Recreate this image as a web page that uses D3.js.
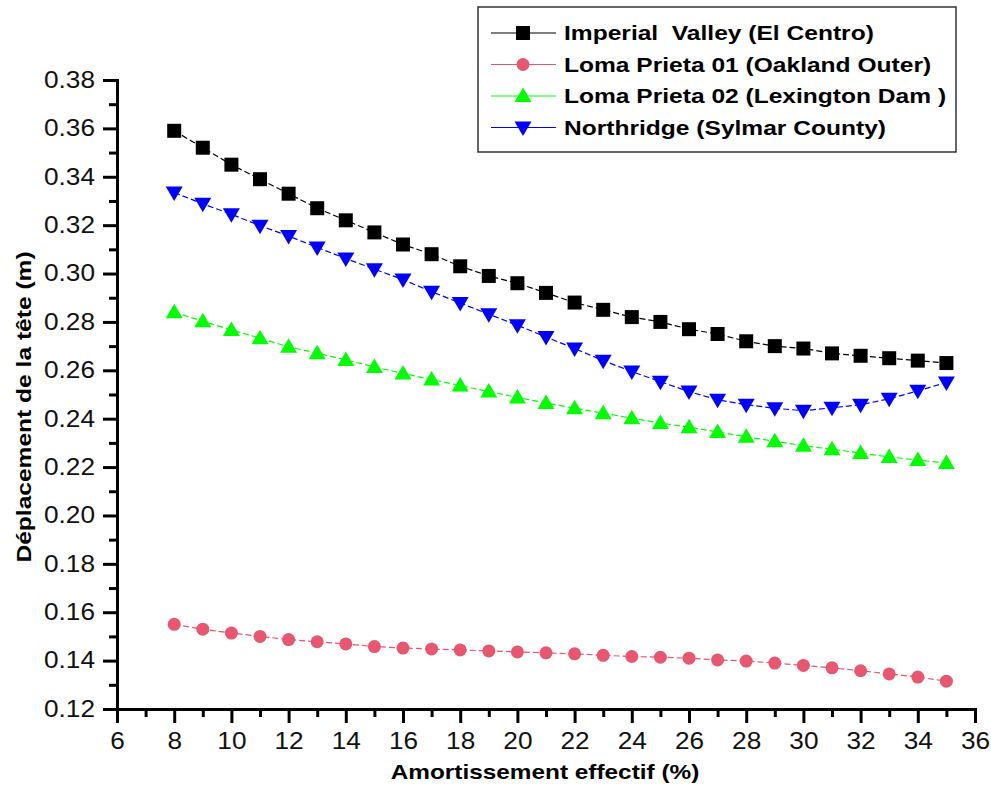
<!DOCTYPE html>
<html>
<head>
<meta charset="utf-8">
<script src="https://cdn.jsdelivr.net/npm/d3@7"></script>
<style>
  body { margin: 0; background: #fff; }
  svg { display: block; font-family: "Liberation Sans", Arial, sans-serif; }
</style>
</head>
<body>
<svg id="chart" width="991" height="789"></svg>
<script>
// amortissement effectif (%)
let damping = d3.range(8, 36);

let imperial = [0.359, 0.352, 0.345, 0.339, 0.333, 0.327, 0.322, 0.317, 0.312, 0.308,
                0.303, 0.299, 0.296, 0.292, 0.288, 0.285, 0.282, 0.280, 0.277, 0.275,
                0.272, 0.270, 0.269, 0.267, 0.266, 0.265, 0.264, 0.263];
let lomaOakland = [0.155, 0.153, 0.1514, 0.150, 0.1487, 0.1478, 0.1469, 0.1458, 0.1452, 0.1448,
                   0.1444, 0.1440, 0.1436, 0.1432, 0.1428, 0.1422, 0.1417, 0.1414, 0.1410, 0.1403,
                   0.1398, 0.1390, 0.1380, 0.1370, 0.1358, 0.1345, 0.1332, 0.1315];
let lomaLexington = [0.284, 0.2803, 0.2767, 0.2733, 0.2697, 0.2671, 0.2643, 0.2614, 0.2587, 0.2562,
                     0.2537, 0.2512, 0.2488, 0.2465, 0.2443, 0.2423, 0.2402, 0.2382, 0.2365, 0.2345,
                     0.2325, 0.2307, 0.2288, 0.2274, 0.2258, 0.2242, 0.2229, 0.2217];
let northridge = [0.3335, 0.3288, 0.3245, 0.3198, 0.3155, 0.3108, 0.3062, 0.3018, 0.2975, 0.2925,
                  0.2878, 0.2832, 0.2786, 0.2738, 0.2690, 0.2640, 0.2595, 0.2553, 0.2512, 0.2478,
                  0.2458, 0.2443, 0.2433, 0.2445, 0.2458, 0.2482, 0.2515, 0.2550];

let seriesNames = ["Imperial  Valley (El Centro)", "Loma Prieta 01 (Oakland Outer)",
                   "Loma Prieta 02 (Lexington Dam )", "Northridge (Sylmar County)"];
let seriesColors = ["#000000", "#e8566f", "#00ff00", "#0000ff"];
let seriesSymbols = ["square", "circle", "up", "down"];

let xTicks = d3.range(6, 37, 2);
let yTicks = d3.range(0.12, 0.381, 0.02);

let series = [imperial, lomaOakland, lomaLexington, northridge].map((vals, i) => ({
  name: seriesNames[i],
  color: seriesColors[i],
  symbol: seriesSymbols[i],
  points: vals.map((v, j) => ({x: damping[j], y: v}))
}));

let minx = 117, maxx = 975;
let miny = 80, maxy = 709;
let sx = 1.14; // text in the original is a bit stretched horizontally

let xScale = d3.scaleLinear().domain([6, 36]).range([minx, maxx]);
let yScale = d3.scaleLinear().domain([0.12, 0.38]).range([maxy, miny]);

let svg = d3.select("#chart");

function symbolPath(type) {
  if (type == "square") return "M-7,-7H7V7H-7Z";
  if (type == "circle") return d3.symbol().type(d3.symbolCircle).size(Math.PI * 6.5 * 6.5)();
  if (type == "up") return "M0,-8.5L8.5,6L-8.5,6Z";
  return "M0,8.5L8.5,-6L-8.5,-6Z";
}

// series lines + markers
let line = d3.line().x(d => xScale(d.x)).y(d => yScale(d.y));
series.forEach(s => {
  svg.append("path")
    .attr("fill", "none")
    .attr("stroke", s.color)
    .attr("stroke-width", 1.2)
    .attr("stroke-dasharray", "6,3")
    .attr("d", line(s.points));
  svg.append("g").selectAll("path")
    .data(s.points)
    .join("path")
    .attr("transform", d => `translate(${xScale(d.x)},${yScale(d.y)})`)
    .attr("d", symbolPath(s.symbol))
    .attr("fill", s.color);
});

// axes
let xMinor = d3.range(7, 36, 2);
let yMinor = d3.range(0.13, 0.38, 0.02);

let gx = svg.append("g").attr("transform", `translate(0,${maxy})`);
gx.call(d3.axisBottom(xScale).tickValues(xMinor).tickSize(8).tickFormat(""));
gx.call(g => g.append("g").call(d3.axisBottom(xScale).tickValues(xTicks).tickSize(14).tickPadding(10).tickFormat(d3.format("d"))));

let gy = svg.append("g").attr("transform", `translate(${minx},0)`);
gy.call(d3.axisLeft(yScale).tickValues(yMinor).tickSize(8).tickFormat(""));
gy.call(g => g.append("g").call(d3.axisLeft(yScale).tickValues(yTicks).tickSize(14).tickPadding(8).tickFormat(d3.format(".2f"))));

svg.selectAll(".domain").attr("stroke", "#000").attr("stroke-width", 3);
svg.selectAll(".tick line").attr("stroke", "#000").attr("stroke-width", 3);
svg.selectAll(".tick text")
  .attr("fill", "#111")
  .style("font-size", "23px")
  .style("font-family", "'Liberation Sans', Arial, sans-serif")
  .attr("transform", `scale(${sx},1)`);
gy.selectAll(".tick text").attr("x", -22 / sx);

// axis titles
svg.append("text")
  .attr("transform", `translate(${(minx + maxx) / 2 - 1},779) scale(${sx + 0.02},1)`)
  .attr("text-anchor", "middle")
  .style("font-size", "21px")
  .style("font-weight", "bold")
  .text("Amortissement effectif (%)");

svg.append("text")
  .attr("transform", `translate(31,407) rotate(-90) scale(${sx + 0.03},1)`)
  .attr("text-anchor", "middle")
  .style("font-size", "21px")
  .style("font-weight", "bold")
  .text("Déplacement de la tête (m)");

// legend
let legend = svg.append("g");
legend.append("rect")
  .attr("x", 478).attr("y", 7)
  .attr("width", 478).attr("height", 145)
  .attr("fill", "#fff")
  .attr("stroke", "#333")
  .attr("stroke-width", 1.5);

series.forEach((s, i) => {
  let cy = 33 + i * 31.5;
  legend.append("line")
    .attr("x1", 491).attr("x2", 556)
    .attr("y1", cy).attr("y2", cy)
    .attr("stroke", s.color)
    .attr("stroke-width", 1.2);
  legend.append("path")
    .attr("transform", `translate(523,${cy})`)
    .attr("d", symbolPath(s.symbol))
    .attr("fill", s.color);
  legend.append("text")
    .attr("transform", `translate(564,${cy + 7}) scale(${sx + 0.03},1)`)
    .style("font-size", "21px")
    .style("font-weight", "bold")
    .style("white-space", "pre")
    .text(s.name);
});
</script>
</body>
</html>
